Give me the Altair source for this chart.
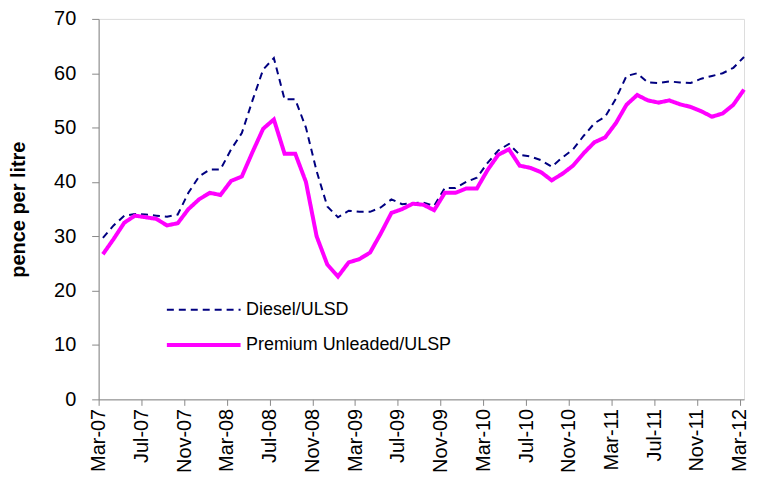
import altair as alt
import pandas as pd

months = [
    "Mar-07", "Apr-07", "May-07", "Jun-07", "Jul-07", "Aug-07", "Sep-07", "Oct-07", "Nov-07", "Dec-07",
    "Jan-08", "Feb-08", "Mar-08", "Apr-08", "May-08", "Jun-08", "Jul-08", "Aug-08", "Sep-08", "Oct-08",
    "Nov-08", "Dec-08", "Jan-09", "Feb-09", "Mar-09", "Apr-09", "May-09", "Jun-09", "Jul-09", "Aug-09",
    "Sep-09", "Oct-09", "Nov-09", "Dec-09", "Jan-10", "Feb-10", "Mar-10", "Apr-10", "May-10", "Jun-10",
    "Jul-10", "Aug-10", "Sep-10", "Oct-10", "Nov-10", "Dec-10", "Jan-11", "Feb-11", "Mar-11", "Apr-11",
    "May-11", "Jun-11", "Jul-11", "Aug-11", "Sep-11", "Oct-11", "Nov-11", "Dec-11", "Jan-12", "Feb-12",
    "Mar-12",
]

diesel = [
    29.7, 32.0, 33.8, 34.1, 34.0, 33.8, 33.6, 34.0, 38.0, 41.0,
    42.3, 42.3, 46.0, 49.0, 55.0, 60.7, 62.8, 55.2, 55.2, 50.0,
    42.0, 35.5, 33.5, 34.7, 34.5, 34.5, 35.3, 36.8, 35.9, 36.1,
    36.2, 35.6, 38.9, 38.9, 40.0, 40.8, 43.5, 45.8, 47.0, 45.0,
    44.7, 44.0, 42.8, 44.5, 46.0, 48.5, 50.8, 52.0, 55.3, 59.5,
    60.0, 58.3, 58.2, 58.5, 58.3, 58.2, 59.0, 59.5, 60.0, 61.0,
    63.0,
]

premium = [
    26.7, 29.5, 32.5, 33.8, 33.5, 33.2, 32.0, 32.4, 35.0, 36.8,
    38.0, 37.6, 40.2, 41.0, 45.5, 49.8, 51.5, 45.2, 45.2, 40.0,
    30.0, 24.8, 22.6, 25.2, 25.8, 27.0, 30.5, 34.3, 35.0, 36.0,
    35.8, 34.8, 38.0, 38.0, 38.8, 38.8, 42.2, 45.0, 46.0, 43.0,
    42.6, 41.8, 40.3, 41.5, 43.0, 45.3, 47.3, 48.2, 50.8, 54.2,
    56.0, 55.0, 54.6, 55.0, 54.3, 53.8, 53.0, 52.0, 52.6, 54.2,
    57.0,
]

series_names = ["Diesel/ULSD", "Premium Unleaded/ULSP"]
series_colors = ["#000080", "#FF00FF"]
tick_labels = months[::4]
y_ticks = [0, 10, 20, 30, 40, 50, 60, 70]

rows = []
for i, m in enumerate(months):
    rows.append({"pos": i + 0.4, "month": m, "series": series_names[0], "value": diesel[i]})
for i, m in enumerate(months):
    rows.append({"pos": i + 0.4, "month": m, "series": series_names[1], "value": premium[i]})
df = pd.DataFrame(rows)

label_expr = "[" + ",".join("'%s'" % t for t in tick_labels) + "][round(datum.value / 4)]"

FONT = "Liberation Sans"

legend = alt.Legend(
    title=None,
    orient="none",
    legendX=96,
    legendY=283,
    symbolType="M-5,0H5",
    symbolSize=219,
    labelFontSize=18,
    labelFont=FONT,
    labelColor="#000000",
    labelOffset=33,
    labelLimit=400,
    rowPadding=17,
)

chart = alt.Chart(df).mark_line(strokeCap="butt").encode(
    x=alt.X(
        "pos:Q",
        scale=alt.Scale(domain=[0, 60.4], nice=False, zero=False),
        axis=alt.Axis(
            values=list(range(0, 61, 4)),
            labelExpr=label_expr,
            labelAngle=270,
            title=None,
            grid=False,
            labelFontSize=20,
            labelPadding=3,
            tickSize=6,
        ),
    ),
    y=alt.Y(
        "value:Q",
        scale=alt.Scale(domain=[0, 70], nice=False),
        axis=alt.Axis(
            values=y_ticks,
            title="pence per litre",
            titleFontSize=20,
            titleFontWeight="bold",
            titlePadding=25,
            grid=False,
            labelFontSize=20,
            labelPadding=16,
            tickSize=7,
        ),
    ),
    color=alt.Color(
        "series:N",
        sort=series_names,
        scale=alt.Scale(domain=series_names, range=series_colors),
        legend=legend,
    ),
    strokeDash=alt.StrokeDash(
        "series:N",
        sort=series_names,
        scale=alt.Scale(domain=series_names, range=[[7, 5], [1, 0]]),
        legend=legend,
    ),
    strokeWidth=alt.StrokeWidth(
        "series:N",
        sort=series_names,
        scale=alt.Scale(domain=series_names, range=[2, 4]),
        legend=legend,
    ),
    order=alt.Order("pos:Q"),
).properties(
    width=648,
    height=382,
    padding=0,
).configure_view(
    stroke=None,
).configure_axis(
    labelFont=FONT,
    titleFont=FONT,
    labelColor="#000000",
    titleColor="#000000",
    domainColor="#000000",
    tickColor="#000000",
    domainWidth=2.5,
    tickWidth=1.5,
).configure(
    font=FONT,
    background="white",
)

chart.save("out.html", embed_options={"renderer": "svg", "actions": False})
